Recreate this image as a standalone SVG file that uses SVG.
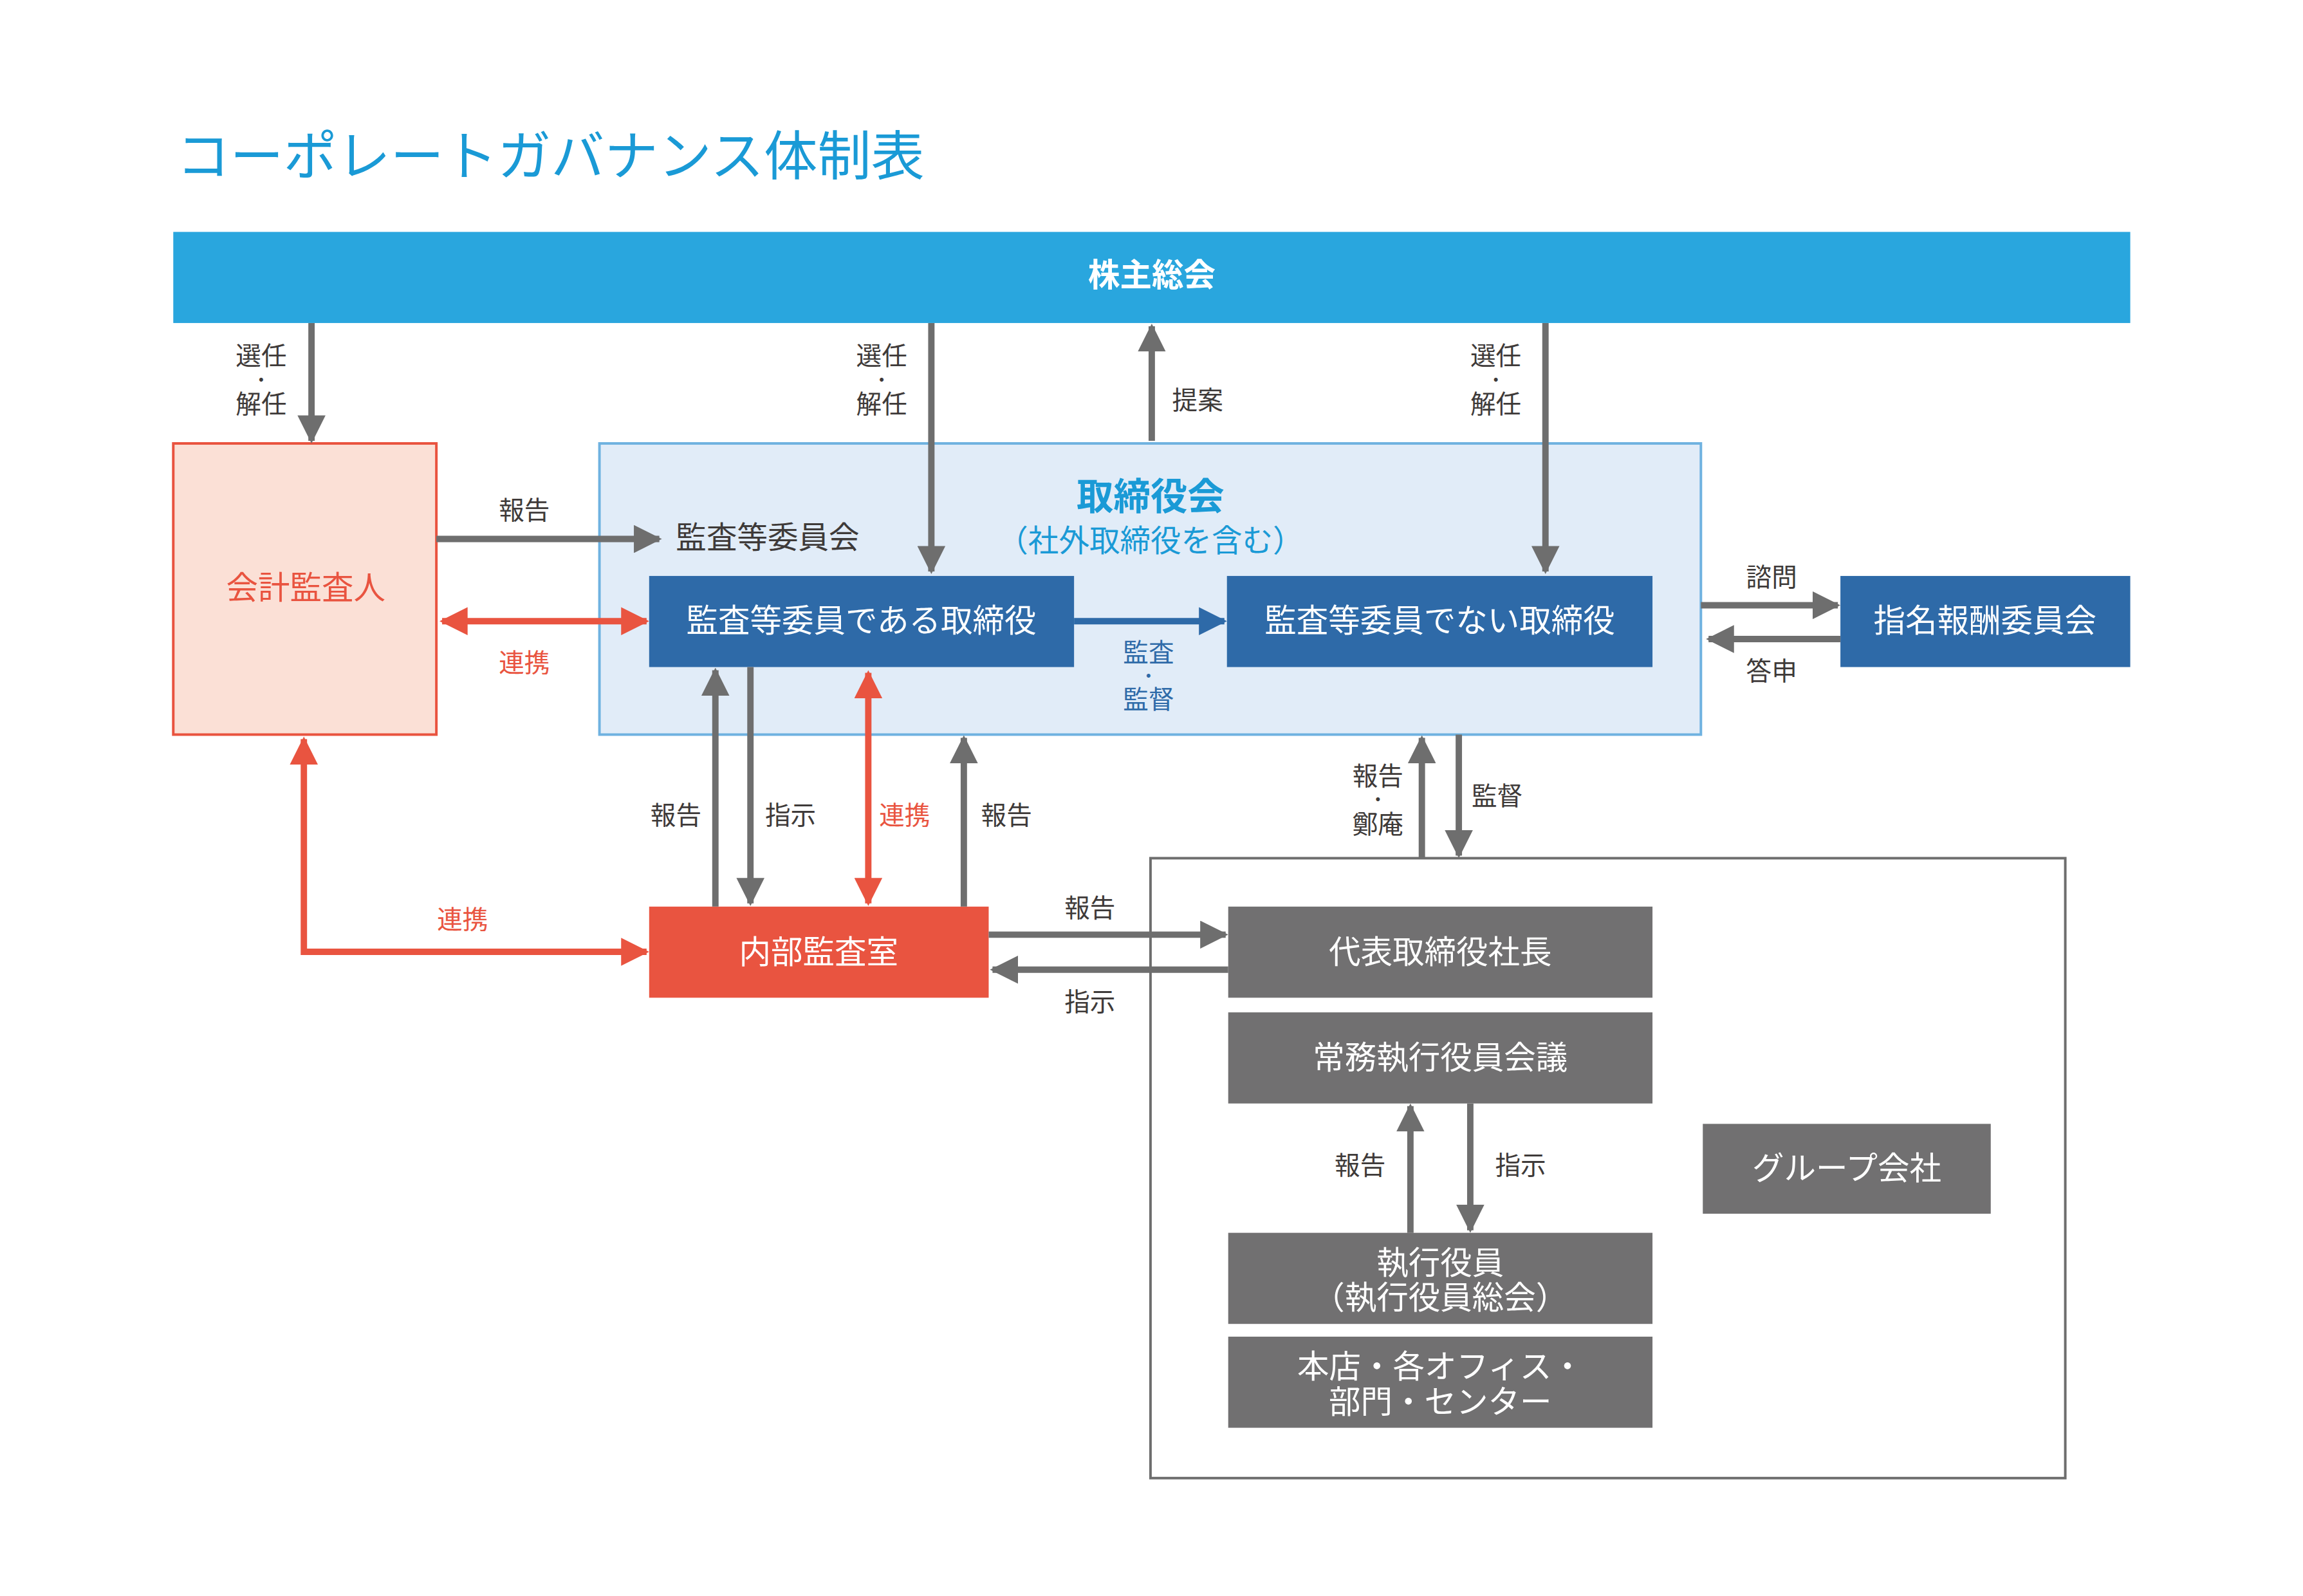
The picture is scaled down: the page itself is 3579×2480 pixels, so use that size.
<svg xmlns="http://www.w3.org/2000/svg" width="3579" height="2480" viewBox="0 0 3579 2480">
<style>
text{font-family:"Noto Sans CJK JP","Noto Sans",sans-serif}
.g{stroke:#6e6e6e;stroke-width:10;fill:none}
.r{stroke:#e95440;stroke-width:10;fill:none}
.b{stroke:#2e6aa8;stroke-width:10;fill:none}
.lg{fill:#3e3a39;font-size:40px;text-anchor:middle}
.lr{fill:#e95440;font-size:40px;text-anchor:middle}
.lb{fill:#2e6aa8;font-size:40px;text-anchor:middle}
.dot{font-size:28px}
.w{fill:#fff;font-size:50px;text-anchor:middle}
</style>
<defs>
<marker id="ag" markerUnits="userSpaceOnUse" markerWidth="44" markerHeight="44" refX="40" refY="22" orient="auto"><path d="M0,0 L44,22 L0,44z" fill="#6e6e6e"/></marker>
<marker id="ar" markerUnits="userSpaceOnUse" markerWidth="44" markerHeight="44" refX="40" refY="22" orient="auto-start-reverse"><path d="M0,0 L44,22 L0,44z" fill="#e95440"/></marker>
<marker id="ab" markerUnits="userSpaceOnUse" markerWidth="44" markerHeight="44" refX="40" refY="22" orient="auto"><path d="M0,0 L44,22 L0,44z" fill="#2e6aa8"/></marker>
</defs>
<rect width="3579" height="2480" fill="#fff"/>
<g transform="scale(0.99)">
<text x="277" y="275" font-size="84" fill="#1a9ad6">コーポレートガバナンス体制表</text>

<g id="kabunushi"><rect x="272" y="364" width="3072" height="143" fill="#29a6de"/><text class="w" x="1808" y="450" font-size="56" font-weight="bold">株主総会</text></g>
<g id="kaikei"><rect x="272" y="696" width="413" height="457" fill="#fbe0d6" stroke="#e9533f" stroke-width="4"/><text x="480" y="940" font-size="50" fill="#e95440" text-anchor="middle">会計監査人</text></g>
<g id="board"><rect x="941" y="696" width="1729" height="457" fill="#e1ecf8" stroke="#6fb2e0" stroke-width="4"/>
<text x="1806" y="800" font-size="58" font-weight="bold" fill="#1a9ad6" text-anchor="middle">取締役会</text>
<text x="1806" y="866" font-size="48" fill="#1a9ad6" text-anchor="middle">（社外取締役を含む）</text>
<text x="1061" y="861" font-size="48" fill="#3e3a39">監査等委員会</text></g>
<g id="kansa-tori"><rect x="1019" y="904" width="667" height="143" fill="#2e6aa8"/><text class="w" x="1352" y="992">監査等委員である取締役</text></g>
<g id="non-tori"><rect x="1926" y="904" width="668" height="143" fill="#2e6aa8"/><text class="w" x="2260" y="992">監査等委員でない取締役</text></g>
<g id="shimei"><rect x="2889" y="904" width="455" height="143" fill="#2e6aa8"/><text class="w" x="3116" y="992">指名報酬委員会</text></g>
<g id="naibu"><rect x="1019" y="1423" width="533" height="143" fill="#e95440"/><text class="w" x="1285" y="1512">内部監査室</text></g>
<g id="exec-area"><rect x="1806" y="1347" width="1436" height="973" fill="none" stroke="#6e6e6e" stroke-width="4"/></g>
<g id="shacho"><rect x="1928" y="1423" width="666" height="143" fill="#717071"/><text class="w" x="2261" y="1512">代表取締役社長</text></g>
<g id="jomu"><rect x="1928" y="1589" width="666" height="143" fill="#717071"/><text class="w" x="2261" y="1678">常務執行役員会議</text></g>
<g id="shikko"><rect x="1928" y="1935" width="666" height="143" fill="#717071"/><text class="w" x="2261" y="2000">執行役員</text><text class="w" x="2261" y="2055">（執行役員総会）</text></g>
<g id="honten"><rect x="1928" y="2098" width="666" height="143" fill="#717071"/><text class="w" x="2261" y="2163">本店・各オフィス・</text><text class="w" x="2261" y="2218">部門・センター</text></g>
<g id="group"><rect x="2673" y="1764" width="452" height="141" fill="#717071"/><text class="w" x="2899" y="1852">グループ会社</text></g>

<g id="connectors">
<line class="g" x1="489" y1="507" x2="489" y2="692" marker-end="url(#ag)"/>
<line class="g" x1="1462" y1="507" x2="1462" y2="897" marker-end="url(#ag)"/>
<line class="g" x1="1808" y1="692" x2="1808" y2="512" marker-end="url(#ag)"/>
<line class="g" x1="2426" y1="507" x2="2426" y2="897" marker-end="url(#ag)"/>
<line class="g" x1="685" y1="846" x2="1035" y2="846" marker-end="url(#ag)"/>
<line class="r" x1="694" y1="975" x2="1015" y2="975" marker-start="url(#ar)" marker-end="url(#ar)"/>
<line class="b" x1="1686" y1="975" x2="1922" y2="975" marker-end="url(#ab)"/>
<line class="g" x1="2670" y1="950" x2="2885" y2="950" marker-end="url(#ag)"/>
<line class="g" x1="2889" y1="1003" x2="2682" y2="1003" marker-end="url(#ag)"/>
<line class="g" x1="1123" y1="1423" x2="1123" y2="1052" marker-end="url(#ag)"/>
<line class="g" x1="1178" y1="1047" x2="1178" y2="1418" marker-end="url(#ag)"/>
<line class="r" x1="1363" y1="1056" x2="1363" y2="1418" marker-start="url(#ar)" marker-end="url(#ar)"/>
<line class="g" x1="1513" y1="1423" x2="1513" y2="1158" marker-end="url(#ag)"/>
<line class="g" x1="2232" y1="1347" x2="2232" y2="1158" marker-end="url(#ag)"/>
<line class="g" x1="2290" y1="1153" x2="2290" y2="1343" marker-end="url(#ag)"/>
<polyline class="r" points="1015,1494 477,1494 477,1160" marker-start="url(#ar)" marker-end="url(#ar)"/>
<line class="g" x1="1552" y1="1467" x2="1924" y2="1467" marker-end="url(#ag)"/>
<line class="g" x1="1928" y1="1522" x2="1558" y2="1522" marker-end="url(#ag)"/>
<line class="g" x1="2214" y1="1935" x2="2214" y2="1736" marker-end="url(#ag)"/>
<line class="g" x1="2308" y1="1732" x2="2308" y2="1931" marker-end="url(#ag)"/>
</g>
<g id="labels">
<text class="lg" x="410" y="573">選任</text><text class="lg dot" x="410" y="606">・</text><text class="lg" x="410" y="648">解任</text>
<text class="lg" x="1384" y="573">選任</text><text class="lg dot" x="1384" y="606">・</text><text class="lg" x="1384" y="648">解任</text>
<text class="lg" x="2348" y="573">選任</text><text class="lg dot" x="2348" y="606">・</text><text class="lg" x="2348" y="648">解任</text>
<text class="lg" x="1880" y="642">提案</text>
<text class="lg" x="823" y="815">報告</text>
<text class="lr" x="823" y="1055">連携</text>
<text class="lb" x="1803" y="1038">監査</text><text class="lb dot" x="1803" y="1071">・</text><text class="lb" x="1803" y="1112">監督</text>
<text class="lg" x="2781" y="920">諮問</text>
<text class="lg" x="2781" y="1068">答申</text>
<text class="lg" x="1061" y="1294">報告</text>
<text class="lg" x="1241" y="1294">指示</text>
<text class="lr" x="1420" y="1294">連携</text>
<text class="lg" x="1580" y="1294">報告</text>
<text class="lg" x="2163" y="1232">報告</text><text class="lg dot" x="2163" y="1265">・</text><text class="lg" x="2163" y="1308">鄭庵</text>
<text class="lg" x="2350" y="1264">監督</text>
<text class="lr" x="726" y="1458">連携</text>
<text class="lg" x="1711" y="1439">報告</text>
<text class="lg" x="1711" y="1587">指示</text>
<text class="lg" x="2135" y="1843">報告</text>
<text class="lg" x="2387" y="1843">指示</text>
</g>
</g>
</svg>
